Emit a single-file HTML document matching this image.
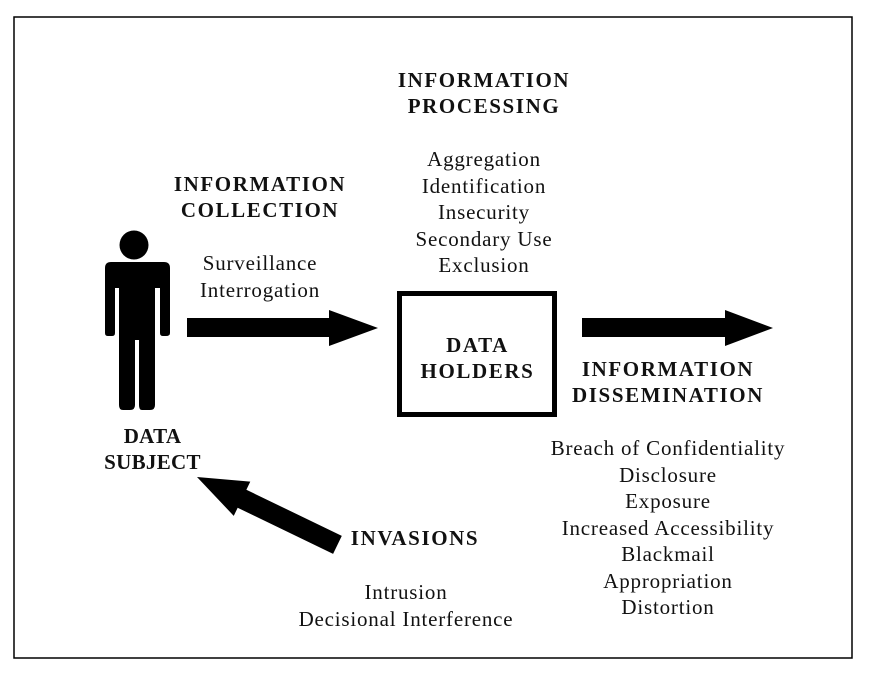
<!DOCTYPE html>
<html><head><style>
body{margin:0;background:#fff;width:873px;height:679px;overflow:hidden;position:relative;font-family:"Liberation Serif",serif;color:#111}
.t{position:absolute;text-align:center;font-size:21px;letter-spacing:0.8px;line-height:26.5px;white-space:nowrap}
.b{font-weight:bold;font-size:21px;letter-spacing:1.6px;line-height:26px}
</style></head><body>
<svg width="873" height="679" style="position:absolute;left:0;top:0">
<rect x="14" y="17" width="838" height="641" fill="none" stroke="#000" stroke-width="1.5"/>
<circle cx="134" cy="245" r="14.5" fill="#000"/>
<path d="M111 262 H164 Q170 262 170 268 V333 Q170 336 166 336 H163 Q160 336 160 333 V288 H155 V405 Q155 410 150 410 H142 Q139 410 139 405 V340 H135 V405 Q135 410 130 410 H123 Q119 410 119 405 V288 H115 V333 Q115 336 112 336 H108 Q105 336 105 333 V268 Q105 262 111 262 Z" fill="#000"/>
<polygon points="187,318 329,318 329,310 378,328 329,346 329,337 187,337" fill="#000"/>
<polygon points="582,318 725,318 725,310 773,328 725,346 725,337 582,337" fill="#000"/>
<rect x="399.5" y="293.5" width="155" height="121" fill="none" stroke="#000" stroke-width="5"/>
<g transform="translate(197,477) rotate(25.8)">
<polygon points="0,0 50,-19 50,-10 156,-10 156,10 50,10 50,19" fill="#000"/>
</g>
</svg>
<div class="t b" style="left:384px;top:67px;width:200px">INFORMATION<br>PROCESSING</div>
<div class="t" style="left:384px;top:146px;width:200px">Aggregation<br>Identification<br>Insecurity<br>Secondary Use<br>Exclusion</div>
<div class="t b" style="left:160px;top:171px;width:200px">INFORMATION<br>COLLECTION</div>
<div class="t" style="left:160px;top:250px;width:200px">Surveillance<br>Interrogation</div>
<div class="t b" style="left:400px;top:332px;width:155px">DATA<br>HOLDERS</div>
<div class="t b" style="left:558px;top:356px;width:220px">INFORMATION<br>DISSEMINATION</div>
<div class="t b" style="left:75px;top:423px;width:155px;letter-spacing:0.3px">DATA<br>SUBJECT</div>
<div class="t" style="left:538px;top:435px;width:260px">Breach of Confidentiality<br>Disclosure<br>Exposure<br>Increased Accessibility<br>Blackmail<br>Appropriation<br>Distortion</div>
<div class="t b" style="left:340px;top:525px;width:150px">INVASIONS</div>
<div class="t" style="left:276px;top:579px;width:260px">Intrusion<br>Decisional Interference</div>
</body></html>
